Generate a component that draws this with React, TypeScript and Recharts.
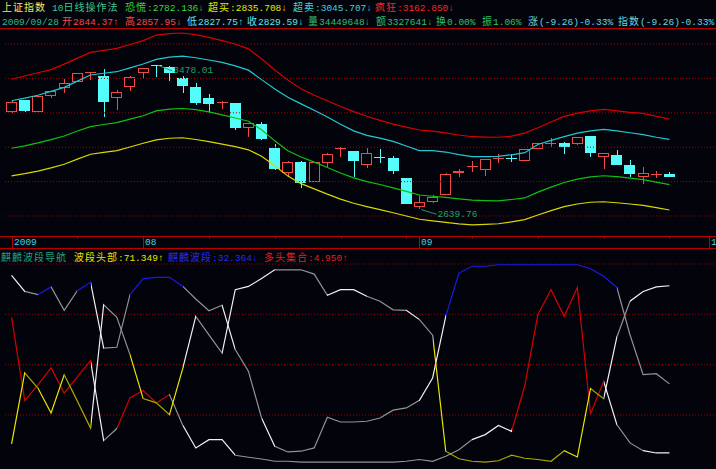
import React from "react";
import { Bar, ComposedChart, Line, ReferenceDot, ReferenceLine, XAxis, YAxis } from "recharts";

const BG = "#03030b";
const UP = "#f24848";
const DOWN = "#54fcfc";
const GRID = "#a00000";
const FRAME = "#b80000";
const TAG = "#22a064";
const MONO = '"Liberation Mono", "DejaVu Sans Mono", monospace';
const CJK = '"Noto Sans CJK SC", sans-serif';

// trading days, the last three slots are still empty
const dates = [
  "2009-07-20", "2009-07-21", "2009-07-22", "2009-07-23", "2009-07-24", "2009-07-27", "2009-07-28", "2009-07-29", "2009-07-30", "2009-07-31",
  "2009-08-03", "2009-08-04", "2009-08-05", "2009-08-06", "2009-08-07", "2009-08-10", "2009-08-11", "2009-08-12", "2009-08-13", "2009-08-14",
  "2009-08-17", "2009-08-18", "2009-08-19", "2009-08-20", "2009-08-21", "2009-08-24", "2009-08-25", "2009-08-26", "2009-08-27", "2009-08-28",
  "2009-08-31", "2009-09-01", "2009-09-02", "2009-09-03", "2009-09-04", "2009-09-07", "2009-09-08", "2009-09-09", "2009-09-10", "2009-09-11",
  "2009-09-14", "2009-09-15", "2009-09-16", "2009-09-17", "2009-09-18", "2009-09-21", "2009-09-22", "2009-09-23", "2009-09-24", "2009-09-25",
  "2009-09-28", "2009-09-29", "2009-09-30", "2009-10-09",
];

const open = [
  3206, 3274, 3206, 3299, 3342, 3381, 3434, 3416, 3284, 3352,
  3430, 3476, 3465, 3401, 3352, 3284, 3262, 3255, 3113, 3135,
  2993, 2851, 2915, 2799, 2909, 2991, 2977, 2896, 2945, 2938,
  2819, 2653, 2679, 2725, 2848, 2886, 2867, 2934, 2937, 2919,
  2991, 3025, 3026, 3016, 3065, 2941, 2954, 2896, 2828, 2841, 2844.37,
];
const high = [
  3266, 3276, 3300, 3329, 3395, 3432, 3438, 3455, 3333, 3412,
  3461, 3478.01, 3472, 3414, 3375, 3309, 3270, 3257, 3141, 3146,
  3018, 2921, 2917, 2914, 2968, 3002, 2979, 2993, 2989, 2948,
  2821, 2725, 2725, 2851, 2871, 2919, 2931, 2960, 2960, 2991,
  3024, 3051, 3028, 3059, 3067, 2966, 2983, 2925, 2886, 2861, 2857.95,
];
const low = [
  3197, 3204, 3204, 3288, 3313, 3378, 3391, 3174, 3216, 3328,
  3397, 3410, 3387, 3313, 3245, 3200, 3222, 3100, 3061, 3041,
  2869, 2828, 2764, 2797, 2886, 2944, 2828, 2877, 2909, 2844,
  2667, 2639.76, 2673, 2723, 2828, 2857, 2834, 2906, 2915, 2917,
  2989, 3002, 2960, 3014, 2941, 2871, 2894, 2828, 2784, 2819, 2827.75,
];
const close = [
  3264, 3210, 3298, 3327, 3372, 3430, 3436, 3264, 3319, 3410,
  3459, 3471, 3433, 3358, 3259, 3251, 3265, 3113, 3139, 3047,
  2871, 2912, 2790, 2912, 2960, 2994, 2919, 2964, 2943, 2861,
  2669, 2682, 2711, 2844, 2861, 2888, 2929, 2936, 2935, 2989,
  3022, 3027, 3002, 3057, 2964, 2964, 2896, 2842, 2851, 2843, 2829.59,
];

// 10日线操作法 bands
const bandCrazy = [
  3395, 3414, 3433, 3451, 3483, 3518, 3551, 3563, 3575, 3597,
  3620, 3652, 3660, 3664, 3655, 3639, 3620, 3600, 3572, 3514,
  3449, 3390, 3340, 3302, 3270, 3237, 3207, 3180, 3156, 3134,
  3117, 3100, 3094, 3083, 3071, 3061, 3059, 3058, 3064, 3082,
  3113, 3147, 3179, 3198, 3211, 3220, 3211, 3203, 3197, 3180, 3162.85,
];
const bandSell = [
  3270, 3285, 3302, 3325, 3348, 3384, 3420, 3430, 3439, 3461,
  3484, 3511, 3524, 3529, 3520, 3507, 3493, 3473, 3448, 3393,
  3338, 3290, 3252, 3215, 3176, 3134, 3095, 3069, 3053, 3034,
  3007, 2980, 2980, 2972, 2957, 2945, 2945, 2947, 2956, 2968,
  3016, 3040, 3062, 3082, 3095, 3104, 3095, 3084, 3073, 3058, 3045.707,
];
const bandPanic = [
  2994, 3008, 3025, 3044, 3065, 3094, 3120, 3132, 3143, 3163,
  3183, 3211, 3221, 3225, 3218, 3205, 3188, 3170, 3151, 3101,
  3037, 2979, 2943, 2913, 2882, 2850, 2822, 2800, 2783, 2764,
  2743, 2722, 2715, 2708, 2700, 2692, 2690, 2688, 2696, 2705,
  2739, 2768, 2795, 2814, 2827, 2834, 2829, 2820, 2812, 2797, 2782.136,
];
const bandLow = [
  2833, 2846, 2861, 2880, 2901, 2931, 2959, 2970, 2980, 3001,
  3023, 3043, 3052, 3055, 3045, 3032, 3018, 3003, 2985, 2948,
  2892, 2832, 2788, 2758, 2727, 2698, 2674, 2655, 2637, 2619,
  2600, 2581, 2572, 2563, 2554, 2548, 2551, 2555, 2566, 2579,
  2606, 2631, 2655, 2670, 2680, 2683, 2677, 2670, 2662, 2649, 2635,
];

// 麒麟波段导航
const qilin = [
  75.5, 69.1, 67.8, 70.9, 61.6, 69.4, 72.8, 46.6, 46.9, 67.8,
  74.2, 74.7, 74.7, 71.2, 66.1, 61.4, 63.6, 46.0, 37.4, 18.8,
  7.6, 5.3, 5.6, 6.9, 19.1, 17.2, 17.2, 17.5, 18.8, 21.9,
  22.8, 25.8, 34.7, 59.2, 76.4, 79.1, 79.1, 79.7, 79.7, 79.7,
  79.7, 79.7, 79.7, 79.7, 78.1, 75.1, 70.7, 51.9, 36.0, 36.4, 32.364,
];
const bullSet = [
  58.8, 25.7, 32.0, 38.7, 28.7, 35.1, 41.6, 9.8, 14.6, 26.8,
  29.7, 24.8, 28.1, 16.0, 6.9, 10.2, 10.2, 4.0, 3.2, 2.5,
  1.6, 1.6, 1.3, 1.3, 1.3, 1.3, 1.3, 1.3, 1.3, 1.3,
  1.6, 2.3, 1.6, 3.6, 6.2, 10.2, 12.2, 15.8, 13.5, 31.5,
  59.9, 69.8, 59.2, 70.7, 20.4, 33.4, 16.2, 8.9, 5.8, 4.9, 4.95,
];
const waveHead = [
  8.5, 36.7, 30.7, 20.8, 36.0, 25.5, 14.8, 63.8, 58.8, 44.0,
  26.5, 24.8, 20.1, 38.3, 59.2, 51.8, 44.6, 69.8, 71.1, 74.2,
  77.7, 77.7, 77.7, 76.0, 67.6, 69.8, 69.8, 67.2, 65.2, 61.8,
  61.6, 57.9, 51.7, 5.6, 2.6, 1.6, 1.3, 1.8, 4.0, 2.8,
  2.3, 1.6, 5.8, 3.3, 30.5, 26.5, 50.9, 65.2, 69.1, 70.9, 71.349,
];

const priceGrid = [2600, 2800, 3000, 3200, 3400, 3600];
const oscGrid = [20, 40, 60, 80];

// segment colours of the oscillator lines, one letter per segment
const palette: Record<string, string> = {
  b: "#1818e8", r: "#d40000", y: "#e8e800", o: "#a8a800", w: "#f0f0f0", g: "#929292",
};
const oscLines = [
  { key: "qilin", segs: "wgbggbwggb" + "bbbgggwggw" + "gggggggggg" + "gwwbbbbbbb" + "bbbbbbgggg" },
  { key: "bullSet", segs: "rrrrrrwgrr" + "rrgwwwwggg" + "gggggggggg" + "gggggwwwrr" + "rrrrrwggww" },
  { key: "waveHead", segs: "yoyyoowggy" + "ooywggwwww" + "ggggwwwggg" + "wgyooooooo" + "ooyyowgwww" },
];

const last = close.length - 1;

const rows = dates.map((d, i) => ({
  date: d,
  range: i <= last ? [low[i], high[i]] : undefined,
  o: open[i], h: high[i], l: low[i], c: close[i],
  crazy: bandCrazy[i] ?? null,
  sell: bandSell[i] ?? null,
  panic: bandPanic[i] ?? null,
  lowBand: bandLow[i] ?? null,
}));

const oscRows = dates.map((d, i) => ({
  date: d,
  qilin: qilin[i] ?? null,
  bullSet: bullSet[i] ?? null,
  waveHead: waveHead[i] ?? null,
}));

const dayOf = (d: string) => {
  const [y, m, dd] = d.split("-").map(Number);
  return new Date(Date.UTC(y, m - 1, dd)).getUTCDay();
};
const isMajor = (i: number) => i === 0 || dates[i].slice(5, 7) !== dates[i - 1].slice(5, 7);
const tickDates = dates.filter((d, i) => isMajor(i) || dayOf(d) === 1);

const hiIdx = high.indexOf(Math.max(...high));
const loIdx = low.indexOf(Math.min(...low));

const titleRow = [
  { x: 2, text: "上证指数", color: "#ecec6c" },
  { x: 52, text: "10日线操作法", color: "#3cc890" },
  { x: 125, text: `恐慌:${bandPanic[last].toFixed(3)}↓`, color: "#3ad83a" },
  { x: 208, text: "超买:2835.708↓", color: "#e6e600" },
  { x: 293, text: `超卖:${bandSell[last].toFixed(3)}↓`, color: "#3cd4dc" },
  { x: 375, text: `疯狂:${bandCrazy[last].toFixed(3)}↓`, color: "#ff2424" },
];
const quoteRow = [
  { x: 2, text: dates[last].replace(/-/g, "/"), color: "#2fb890" },
  { x: 62, text: `开${open[last].toFixed(2)}↑`, color: "#ff4848" },
  { x: 125, text: `高${high[last].toFixed(2)}↓`, color: "#ff4848" },
  { x: 187, text: `低${low[last].toFixed(2)}↑`, color: "#5ee6ee" },
  { x: 247, text: `收${close[last].toFixed(2)}↓`, color: "#5ee6ee" },
  { x: 308, text: "量34449648↓", color: "#2fc070" },
  { x: 376, text: "额3327641↓", color: "#2fc070" },
  { x: 436, text: "换0.00%", color: "#2fc070" },
  { x: 482, text: "振1.06%", color: "#2fc070" },
  { x: 528, text: "涨(-9.26)-0.33%", color: "#5ed8e6" },
  { x: 618, text: "指数(-9.26)-0.33%", color: "#5ed8e6" },
];
const oscRow = [
  { x: 1, text: "麒麟波段导航", color: "#1fa27e" },
  { x: 74, text: `波段头部:${waveHead[last].toFixed(3)}↑`, color: "#e6e600" },
  { x: 168, text: `麒麟波段:${qilin[last].toFixed(3)}↓`, color: "#2a2af0" },
  { x: 264, text: `多头集合:${bullSet[last].toFixed(3)}↑`, color: "#e02020" },
];

function Label({ x, y, text, color }: { x: number; y: number; text: string; color: string }) {
  const parts = text.split(/([\u3400-\u9fff]+)/).filter(Boolean);
  return (
    <div
      style={{
        position: "absolute", left: x, top: y, color, whiteSpace: "nowrap",
        fontFamily: CJK, fontSize: 10, lineHeight: "13px", height: 13,
      }}
    >
      {parts.map((p, i) =>
        /[\u3400-\u9fff]/.test(p) ? (
          <span key={i} style={{ letterSpacing: 1 }}>{p}</span>
        ) : (
          <span key={i} style={{ fontFamily: MONO, fontSize: 9.5 }}>{p}</span>
        )
      )}
    </div>
  );
}

function Candle(props: any) {
  const { x, y, width, height, payload } = props;
  if (!payload || payload.h == null || !isFinite(y) || !isFinite(height)) return null;
  const { o, h, l, c } = payload;
  const top = Math.min(y, y + height);
  const span = Math.abs(height);
  const py = (v: number) => (h === l ? top : top + ((h - v) / (h - l)) * span);
  const color = c > o ? UP : DOWN;
  const mid = Math.round(x + width / 2) + 0.5;
  const x0 = Math.round(x);
  const x1 = Math.round(x + width);
  const bTop = Math.round(py(Math.max(o, c)));
  const bBot = Math.round(py(Math.min(o, c)));
  const yH = Math.round(py(h));
  const yL = Math.round(py(l));
  if (bBot - bTop < 2) {
    return (
      <g>
        <line x1={mid} x2={mid} y1={yH} y2={yL} stroke={color} />
        <line x1={x0} x2={x1} y1={bTop + 0.5} y2={bTop + 0.5} stroke={color} />
      </g>
    );
  }
  if (c > o) {
    return (
      <g>
        <line x1={mid} x2={mid} y1={yH} y2={bTop} stroke={color} />
        <line x1={mid} x2={mid} y1={bBot} y2={yL} stroke={color} />
        <rect x={x0 + 0.5} y={bTop + 0.5} width={x1 - x0 - 1} height={bBot - bTop - 1} fill="none" stroke={color} />
      </g>
    );
  }
  return (
    <g>
      <line x1={mid} x2={mid} y1={yH} y2={yL} stroke={color} />
      <rect x={x0} y={bTop} width={x1 - x0} height={bBot - bTop} fill={color} />
    </g>
  );
}

function DateTick({ x, y, payload }: any) {
  const i = dates.indexOf(payload.value);
  const major = isMajor(i);
  const label = i === 0 ? dates[0].slice(0, 4) : dates[i].slice(5, 7);
  const tx = Math.round(x) + 0.5;
  return (
    <g>
      <line x1={tx} x2={tx} y1={y} y2={y + (major ? 13 : 2.5)} stroke={FRAME} />
      {major && (
        <text x={tx + 1.5} y={y + 6.8} dominantBaseline="central" fill="#40d4e4" fontFamily={MONO} fontSize={9.5}>
          {label}
        </text>
      )}
    </g>
  );
}

function Tag({ cx, cy, dx, dy, text }: any) {
  return (
    <g>
      <line x1={cx + 2} y1={cy + 0.5} x2={cx + dx} y2={cy + dy} stroke={TAG} />
      <text x={cx + dx + 1} y={cy + dy} dominantBaseline="central" fill={TAG} fontFamily={MONO} fontSize={9.5}>
        {text}
      </text>
    </g>
  );
}

export default function App() {
  const n = last;
  return (
    <div style={{ position: "absolute", left: 0, top: 0, width: 716, height: 469, background: BG, overflow: "hidden" }}>
      <svg width={0} height={0} style={{ position: "absolute" }}>
        <defs>
          {oscLines.map((s) => (
            <linearGradient key={s.key} id={`seg-${s.key}`} x1="0" y1="0" x2="1" y2="0">
              {s.segs.split("").flatMap((ch, k) => [
                <stop key={`a${k}`} offset={k / n} stopColor={palette[ch]} />,
                <stop key={`b${k}`} offset={(k + 1) / n} stopColor={palette[ch]} />,
              ])}
            </linearGradient>
          ))}
        </defs>
      </svg>

      {titleRow.map((t) => <Label key={t.text} x={t.x} y={-0.5} text={t.text} color={t.color} />)}
      {quoteRow.map((t) => <Label key={t.text} x={t.x} y={14} text={t.text} color={t.color} />)}
      <div style={{ position: "absolute", left: 0, top: 28, width: 716, height: 1, background: FRAME }} />

      <div style={{ position: "absolute", left: 0, top: 0 }}>
        <ComposedChart width={716} height={249} data={rows} margin={{ top: 28, right: 0.5, left: 5, bottom: 0 }}>
          <XAxis
            dataKey="date"
            height={13}
            interval={0}
            ticks={tickDates}
            tick={<DateTick />}
            tickLine={false}
            tickSize={0}
            tickMargin={0}
            axisLine={false}
          />
          <YAxis hide type="number" domain={[2483.8, 3693.1]} allowDataOverflow />
          {priceGrid.map((v) => (
            <ReferenceLine key={v} y={v} stroke={GRID} strokeDasharray="1 2" />
          ))}
          <Line dataKey="crazy" stroke="#d80000" strokeWidth={1.2} dot={false} isAnimationActive={false} />
          <Line dataKey="sell" stroke="#22c8d0" strokeWidth={1.2} dot={false} isAnimationActive={false} />
          <Line dataKey="panic" stroke="#10c010" strokeWidth={1.2} dot={false} isAnimationActive={false} />
          <Line dataKey="lowBand" stroke="#d8d800" strokeWidth={1.2} dot={false} isAnimationActive={false} />
          <Bar dataKey="range" barSize={11} isAnimationActive={false} shape={(p: any) => <Candle {...p} />} />
          <ReferenceDot
            x={dates[hiIdx]}
            y={high[hiIdx]}
            r={0}
            shape={(p: any) => <Tag {...p} dx={16} dy={6} text={high[hiIdx].toFixed(2)} />}
          />
          <ReferenceDot
            x={dates[loIdx]}
            y={low[loIdx]}
            r={0}
            shape={(p: any) => <Tag {...p} dx={17} dy={5} text={low[loIdx].toFixed(2)} />}
          />
        </ComposedChart>
      </div>

      <div style={{ position: "absolute", left: 0, top: 236, width: 716, height: 1, background: FRAME }} />
      <div style={{ position: "absolute", left: 0, top: 248, width: 716, height: 1, background: FRAME }} />

      <div style={{ position: "absolute", left: 0, top: 249 }}>
        <ComposedChart width={716} height={220} data={oscRows} margin={{ top: 15, right: 0.5, left: 5, bottom: 3.7 }}>
          <XAxis dataKey="date" hide scale="band" />
          <YAxis hide type="number" domain={[0, 80]} allowDataOverflow />
          {oscGrid.map((v) => (
            <ReferenceLine key={v} y={v} stroke={GRID} strokeDasharray="1 2" />
          ))}
          {oscLines.map((s) => (
            <Line
              key={s.key}
              dataKey={s.key}
              stroke={`url(#seg-${s.key})`}
              strokeWidth={1.2}
              dot={false}
              activeDot={false}
              isAnimationActive={false}
            />
          ))}
        </ComposedChart>
      </div>
      {oscRow.map((t) => <Label key={t.text} x={t.x} y={249.5} text={t.text} color={t.color} />)}
    </div>
  );
}
